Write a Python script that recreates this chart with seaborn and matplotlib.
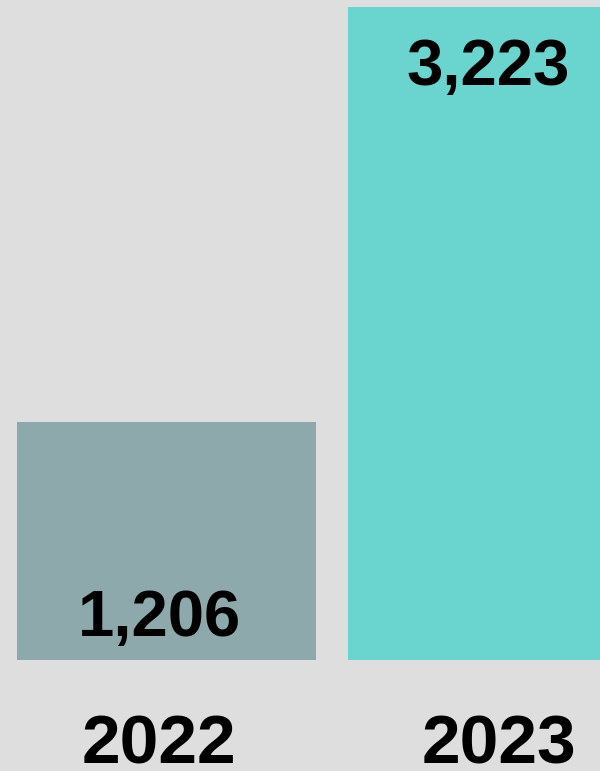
import matplotlib
matplotlib.use("Agg")
import matplotlib.pyplot as plt
import seaborn as sns
import pandas as pd

years = ["2022", "2023"]
values = [1206, 3223]
labels = ["1,206", "3,223"]
colors = ["#8ea9ab", "#6ad4cf"]

sns.set_theme(style="white")
plt.rcParams['font.family'] = ['Liberation Sans', 'DejaVu Sans']

bg = "#dedede"
fig = plt.figure(figsize=(6, 7.71), dpi=100, facecolor=bg)
ax = fig.add_axes([0, 111/771, 1, 660/771])
ax.set_facecolor(bg)

df = pd.DataFrame({"year": years, "value": values})
sns.barplot(data=df, x="year", y="value", hue="year", palette=colors,
            width=0.9033, legend=False, ax=ax, saturation=1, linewidth=0)

ax.set_xlim(-0.503, -0.503 + 600/331)
ax.set_ylim(49.3, 3257.0)
for s in ax.spines.values():
    s.set_visible(False)
ax.set_xticks([])
ax.set_yticks([])
ax.set_xlabel("")
ax.set_ylabel("")

px = 0.72
base = ("data", "axes fraction")
# value labels
ax.annotate(labels[0], (0, 0), xycoords=base, xytext=(-7*px, 24*px), textcoords="offset points",
            ha="center", va="baseline", fontsize=47, fontweight="bold", color="black")
ax.annotate(labels[1], (1, values[1]), xytext=(-9*px, -78*px), textcoords="offset points",
            ha="center", va="baseline", fontsize=47, fontweight="bold", color="black")
# year labels
for i, y in enumerate(years):
    ax.annotate(y, (i, 0), xycoords=base, xytext=([-8, 1][i]*px, -103*px), textcoords="offset points",
                ha="center", va="baseline", fontsize=50, fontweight="bold", color="black",
                annotation_clip=False)

fig.savefig("out.png", dpi=100, facecolor=bg)
